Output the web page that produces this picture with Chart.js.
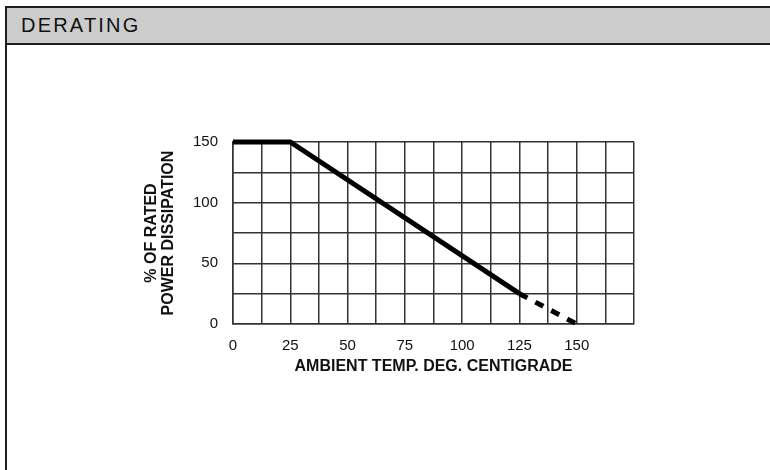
<!DOCTYPE html>
<html lang="en">
<head>
<meta charset="UTF-8">
<title>Derating</title>
<script src="https://cdn.jsdelivr.net/npm/chart.js@4"></script>
<style>
  html, body {
    margin: 0;
    padding: 0;
    background: #fff;
    overflow: hidden;
  }
  .panel {
    position: absolute;
    left: 5px;
    top: 6px;
    width: 800px;
    height: 500px;
    border-left: 2px solid #1e1e1e;
    border-top: 2px solid #1e1e1e;
  }
  .panel-head {
    height: 35px;
    background: #cccccc;
    border-bottom: 2px solid #1e1e1e;
    position: relative;
  }
  .panel-head span {
    position: absolute;
    left: 14px;
    top: 7px;
    font-family: "Liberation Sans", Arial, sans-serif;
    font-size: 20px;
    line-height: 20px;
    letter-spacing: 2.2px;
    color: #111;
  }
  #deratingChart {
    position: absolute;
    left: 0;
    top: 0;
  }
</style>
</head>
<body>
<div class="panel"><div class="panel-head"><span>DERATING</span></div></div>
<canvas id="deratingChart" width="770" height="470"></canvas>
<script>
// Derating curve (last segment is dashed)
const ambientTemp = [0, 25, 125, 150];
const ratedPower = [150, 150, 25, 0];

// Axis ranges and labelled ticks
const xMax = 175;
const yMax = 150;
const xLabelled = [0, 25, 50, 75, 100, 125, 150];
const yLabelled = [0, 50, 100, 150];

const gridColor = '#333';
const gridWidth = 1.5;
const fontFamily = '"Liberation Sans", Arial, sans-serif';

const points = ambientTemp.map((t, i) => ({ x: t, y: ratedPower[i] }));

const ctx = document.getElementById('deratingChart').getContext('2d');
new Chart(ctx, {
  type: 'line',
  data: {
    datasets: [{
      data: points,
      borderColor: '#000',
      borderWidth: 5,
      borderCapStyle: 'butt',
      borderJoinStyle: 'miter',
      pointRadius: 0,
      fill: false,
      tension: 0,
      clip: false,
      segment: {
        // dashed from 125 deg on
        borderDash: c => (c.p0DataIndex === ambientTemp.length - 2 ? [9, 9] : undefined)
      }
    }]
  },
  options: {
    responsive: false,
    animation: false,
    events: [],
    layout: {
      padding: { left: 140, right: 136, top: 142, bottom: 86 }
    },
    plugins: {
      legend: { display: false },
      tooltip: { enabled: false },
      title: { display: false }
    },
    scales: {
      x: {
        type: 'linear',
        min: 0,
        max: xMax,
        afterFit: scale => { scale.height = 60; },
        grid: { color: gridColor, lineWidth: gridWidth, drawTicks: false },
        border: { color: gridColor, width: gridWidth },
        ticks: {
          stepSize: 12.5,
          autoSkip: false,
          maxRotation: 0,
          padding: 13,
          color: '#111',
          font: { family: fontFamily, size: 15 },
          callback: v => (xLabelled.includes(v) ? v : '')
        },
        title: {
          display: true,
          text: 'AMBIENT TEMP. DEG. CENTIGRADE',
          color: '#111',
          padding: { top: 0, bottom: 8 },
          font: { family: fontFamily, size: 16, weight: 'bold', lineHeight: 1.2 }
        }
      },
      y: {
        type: 'linear',
        min: 0,
        max: yMax,
        afterFit: scale => { scale.width = 93; },
        grid: { color: gridColor, lineWidth: gridWidth, drawTicks: false },
        border: { color: gridColor, width: gridWidth },
        ticks: {
          stepSize: 25,
          autoSkip: false,
          padding: 15,
          color: '#111',
          font: { family: fontFamily, size: 15 },
          callback: v => (yLabelled.includes(v) ? v : '')
        },
        title: {
          display: true,
          text: ['% OF RATED', 'POWER DISSIPATION'],
          color: '#111',
          padding: { top: 3, bottom: 0 },
          font: { family: fontFamily, size: 16, weight: 'bold', lineHeight: '17px' }
        }
      }
    }
  }
});
</script>
</body>
</html>
